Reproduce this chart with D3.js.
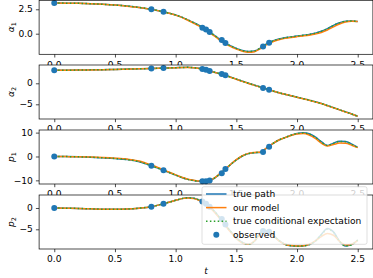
<!DOCTYPE html>
<html>
<head>
<meta charset="utf-8">
<script src="https://cdn.jsdelivr.net/npm/d3@7"></script>
<style>
  body { margin: 0; background: #fff; }
  text { font-family: "DejaVu Sans", sans-serif; }
</style>
</head>
<body>
<div id="chart"></div>
<script>
// time grid of the paths
const times = [0, 0.1, 0.2, 0.3, 0.4, 0.5, 0.6, 0.7, 0.8, 0.9, 1.0,
  1.05, 1.1, 1.15, 1.2, 1.25, 1.3, 1.35, 1.4, 1.45, 1.5,
  1.55, 1.6, 1.65, 1.7, 1.75, 1.8, 1.85, 1.9, 1.95, 2.0,
  2.05, 2.1, 2.15, 2.2, 2.25, 2.3, 2.35, 2.4, 2.45, 2.5];

// alpha_1
const alpha1True = [3.14, 3.13, 3.11, 3.07, 3.01, 2.93, 2.83, 2.69, 2.50, 2.24, 1.92,
  1.70, 1.42, 1.12, 0.80, 0.42, 0.00, -0.45, -0.90, -1.22, -1.50,
  -1.72, -1.83, -1.78, -1.45, -1.05, -0.75, -0.55, -0.42, -0.33, -0.24,
  -0.17, -0.08, 0.05, 0.25, 0.52, 0.85, 1.12, 1.28, 1.30, 1.24];
const alpha1Model = [3.14, 3.13, 3.11, 3.07, 3.01, 2.93, 2.82, 2.68, 2.49, 2.23, 1.90,
  1.67, 1.38, 1.07, 0.74, 0.36, -0.06, -0.52, -0.96, -1.30, -1.58,
  -1.80, -1.90, -1.84, -1.52, -1.12, -0.82, -0.62, -0.48, -0.38, -0.30,
  -0.23, -0.15, -0.04, 0.13, 0.38, 0.70, 1.00, 1.20, 1.27, 1.24];
const alpha1Cond = [3.14, 3.13, 3.11, 3.07, 3.01, 2.93, 2.83, 2.69, 2.50, 2.24, 1.92,
  1.70, 1.42, 1.12, 0.80, 0.42, 0.00, -0.45, -0.90, -1.23, -1.51,
  -1.73, -1.83, -1.77, -1.44, -1.05, -0.75, -0.55, -0.42, -0.33, -0.24,
  -0.17, -0.08, 0.05, 0.24, 0.51, 0.84, 1.11, 1.27, 1.30, 1.24];

// alpha_2
const alpha2True = [3.10, 3.12, 3.15, 3.20, 3.25, 3.30, 3.38, 3.45, 3.52, 3.62, 3.72,
  3.78, 3.80, 3.72, 3.50, 3.20, 2.80, 2.40, 2.00, 1.50, 1.00,
  0.50, 0.00, -0.45, -0.90, -1.35, -1.80, -2.25, -2.60, -2.95, -3.30,
  -3.65, -4.00, -4.40, -4.80, -5.30, -5.80, -6.30, -6.80, -7.30, -7.85];
const alpha2Model = [3.10, 3.12, 3.15, 3.19, 3.24, 3.30, 3.37, 3.44, 3.52, 3.62, 3.71,
  3.76, 3.77, 3.68, 3.46, 3.15, 2.76, 2.36, 1.95, 1.46, 0.96,
  0.46, -0.04, -0.50, -0.94, -1.38, -1.83, -2.27, -2.63, -2.98, -3.33,
  -3.68, -4.03, -4.42, -4.83, -5.33, -5.83, -6.32, -6.82, -7.32, -7.85];
const alpha2Cond = [3.10, 3.12, 3.15, 3.20, 3.25, 3.30, 3.38, 3.45, 3.52, 3.62, 3.72,
  3.78, 3.80, 3.72, 3.50, 3.20, 2.80, 2.40, 2.00, 1.50, 1.00,
  0.50, 0.00, -0.45, -0.90, -1.35, -1.80, -2.25, -2.60, -2.95, -3.30,
  -3.65, -4.00, -4.40, -4.80, -5.30, -5.80, -6.30, -6.80, -7.30, -7.85];

// p_1
const p1True = [0.00, -0.05, -0.15, -0.30, -0.55, -0.85, -1.30, -2.20, -3.90, -5.80, -7.80,
  -8.80, -9.60, -10.10, -10.40, -10.40, -9.70, -7.90, -5.80, -3.50, -1.40,
  0.20, 1.20, 1.60, 1.80, 3.60, 5.40, 6.90, 7.90, 8.90, 9.60,
  9.90, 9.50, 8.20, 6.20, 4.60, 5.60, 6.40, 6.30, 5.20, 3.80];
const p1Model = [0.00, -0.05, -0.12, -0.25, -0.45, -0.72, -1.10, -1.90, -3.60, -5.60, -7.70,
  -8.70, -9.50, -10.00, -10.30, -10.30, -9.60, -7.80, -5.70, -3.40, -1.30,
  0.30, 1.30, 1.70, 1.90, 3.60, 5.40, 6.90, 7.90, 8.80, 9.40,
  9.60, 9.00, 7.60, 5.60, 4.40, 5.00, 5.60, 5.50, 4.70, 3.70];
const p1Cond = [0.00, -0.05, -0.15, -0.30, -0.55, -0.85, -1.30, -2.20, -3.90, -5.80, -7.80,
  -8.80, -9.60, -10.10, -10.40, -10.40, -9.70, -7.90, -5.80, -3.50, -1.40,
  0.20, 1.20, 1.60, 1.80, 3.60, 5.40, 6.90, 7.90, 8.90, 9.60,
  9.90, 9.40, 8.10, 6.10, 4.60, 5.50, 6.30, 6.20, 5.10, 3.80];

// p_2
const p2True = [0.00, -0.05, -0.10, -0.20, -0.28, -0.30, -0.25, -0.05, 0.30, 1.00, 1.80,
  2.20, 2.40, 2.30, 1.80, 1.00, -0.20, -1.80, -3.60, -5.40, -7.00,
  -8.10, -8.50, -7.80, -5.80, -5.40, -6.30, -7.60, -8.50, -8.85, -8.95,
  -8.90, -8.60, -7.80, -6.20, -4.80, -5.60, -7.80, -8.90, -8.60, -7.50];
const p2Model = [0.00, -0.05, -0.10, -0.20, -0.28, -0.30, -0.25, -0.05, 0.30, 1.00, 1.80,
  2.20, 2.35, 2.20, 1.70, 0.85, -0.40, -2.00, -3.80, -5.60, -7.20,
  -8.20, -8.50, -7.70, -6.00, -5.70, -6.50, -7.70, -8.50, -8.80, -8.90,
  -8.85, -8.50, -7.70, -6.70, -6.00, -6.40, -7.80, -8.70, -8.50, -7.60];
const p2Cond = [0.00, -0.05, -0.10, -0.20, -0.28, -0.30, -0.25, -0.05, 0.30, 1.00, 1.80,
  2.20, 2.40, 2.30, 1.80, 1.00, -0.20, -1.80, -3.60, -5.40, -7.00,
  -8.10, -8.50, -7.80, -5.80, -5.40, -6.30, -7.60, -8.50, -8.85, -8.95,
  -8.90, -8.60, -7.80, -6.30, -5.00, -5.70, -7.80, -8.90, -8.60, -7.50];

// observations
const obsTimes = [0, 0.8, 0.9, 1.22, 1.25, 1.28, 1.38, 1.41, 1.72, 1.77];
const alpha1Obs = [3.14, 2.50, 2.24, 0.62, 0.42, 0.18, -0.65, -0.95, -1.30, -0.92];
const alpha2Obs = [3.10, 3.52, 3.62, 3.38, 3.20, 2.95, 2.20, 1.90, -1.10, -1.55];
const p1Obs = [0, -3.9, -5.8, -10.4, -10.4, -10.1, -7.0, -5.2, 1.9, 4.1];
const p2Obs = [0, 0.3, 1.0, 1.5, 1.0, 0.3, -2.6, -3.9, -5.4, -5.6];

const xTicks = [0, 0.5, 1.0, 1.5, 2.0, 2.5];
const xTickLabels = ['0.0', '0.5', '1.0', '1.5', '2.0', '2.5'];
const legendLabels = ['true path', 'our model', 'true conditional expectation', 'observed'];

const panels = [
  {sym: 'α', sub: '1', truth: alpha1True, model: alpha1Model, cond: alpha1Cond, obs: alpha1Obs,
   ticks: [0, 2.5], tickLabels: ['0.0', '2.5'], domain: [-2.11, 3.42]},
  {sym: 'α', sub: '2', truth: alpha2True, model: alpha2Model, cond: alpha2Cond, obs: alpha2Obs,
   ticks: [-5, 0], tickLabels: ['\u22125', '0'], domain: [-8.5, 4.36]},
  {sym: 'p', sub: '1', truth: p1True, model: p1Model, cond: p1Cond, obs: p1Obs,
   ticks: [-10, 0, 10], tickLabels: ['\u221210', '0', '10'], domain: [-11.53, 11.1]},
  {sym: 'p', sub: '2', truth: p2True, model: p2Model, cond: p2Cond, obs: p2Obs,
   ticks: [-5, 0], tickLabels: ['\u22125', '0'], domain: [-9.62, 3.05]}
];

const blue = '#1f77b4', orange = '#ff7f0e', green = '#2ca02c';
const fs = 9.1;
const lw = 1.5;

const svg = d3.select('#chart').append('svg')
    .attr('width', 373)
    .attr('height', 278);

const left = 39.1, right = 372.9;
const tops = [0.3, 65.0, 130.0, 195.0], panelH = 54;

const x = d3.scaleLinear().domain([-0.125, 2.625]).range([left, right]);

panels.forEach(function(p, i) {
    const top = tops[i], bottom = top + panelH;
    const y = d3.scaleLinear().domain(p.domain).range([bottom, top]);
    const g = svg.append('g');

    // white axes background covers tick labels of the panel above
    g.append('rect')
        .attr('x', left).attr('y', top)
        .attr('width', right - left).attr('height', panelH)
        .attr('fill', '#fff');

    const plot = g.append('g');
    const line = vals => d3.line()
        .x((d, k) => x(times[k]))
        .y(d => y(d))
        .curve(d3.curveMonotoneX)(vals);

    plot.append('path').attr('d', line(p.truth))
        .attr('fill', 'none').attr('stroke', blue).attr('stroke-width', lw);
    plot.append('path').attr('d', line(p.model))
        .attr('fill', 'none').attr('stroke', orange).attr('stroke-width', lw);
    plot.append('path').attr('d', line(p.cond))
        .attr('fill', 'none').attr('stroke', green).attr('stroke-width', lw)
        .attr('stroke-dasharray', '1.5,2.4');

    plot.selectAll('circle')
        .data(p.obs)
        .enter().append('circle')
        .attr('cx', (d, k) => x(obsTimes[k]))
        .attr('cy', d => y(d))
        .attr('r', 3.0)
        .attr('fill', blue);

    // y axis ticks, labels set explicitly
    const yAxis = g.append('g')
        .attr('transform', 'translate(' + left + ',0)')
        .call(d3.axisLeft(y).tickValues(p.ticks).tickSize(3.2).tickFormat(''));
    yAxis.select('.domain').remove();
    g.selectAll('.ylab')
        .data(p.ticks)
        .enter().append('text')
        .attr('class', 'ylab')
        .attr('x', left - 6.2)
        .attr('y', d => y(d))
        .attr('dy', '0.35em')
        .attr('text-anchor', 'end')
        .style('font-size', fs + 'px')
        .text((d, k) => p.tickLabels[k]);

    // x axis ticks, labels set explicitly
    const xAxis = g.append('g')
        .attr('transform', 'translate(0,' + bottom + ')')
        .call(d3.axisBottom(x).tickValues(xTicks).tickSize(3.2).tickFormat(''));
    xAxis.select('.domain').remove();
    g.selectAll('.xlab')
        .data(xTicks)
        .enter().append('text')
        .attr('class', 'xlab')
        .attr('x', d => x(d))
        .attr('y', bottom + 13.4)
        .attr('text-anchor', 'middle')
        .style('font-size', fs + 'px')
        .text((d, k) => xTickLabels[k]);

    g.selectAll('.tick line').attr('stroke', '#000').attr('stroke-width', 0.7);

    // frame
    g.append('rect')
        .attr('x', left).attr('y', top)
        .attr('width', right - left).attr('height', panelH)
        .attr('fill', 'none').attr('stroke', '#000').attr('stroke-width', 0.7);

    // y label
    const lab = g.append('text')
        .attr('transform', 'translate(14,' + (top + panelH / 2) + ') rotate(-90)')
        .attr('text-anchor', 'middle')
        .style('font-size', fs + 'px')
        .style('font-style', 'italic');
    lab.append('tspan').text(p.sym);
    lab.append('tspan').attr('dy', 1.6).style('font-size', (fs * 0.7) + 'px')
        .style('font-style', 'normal').text(p.sub);
});

// x label
svg.append('text')
    .attr('x', (left + right) / 2)
    .attr('y', 274.3)
    .attr('text-anchor', 'middle')
    .style('font-size', fs + 'px')
    .style('font-style', 'italic')
    .text('t');

// legend in the bottom panel, lower right
const legend = svg.append('g');
legend.append('rect')
    .attr('x', 202).attr('y', 186.7)
    .attr('width', 165).attr('height', 57.6)
    .attr('rx', 2)
    .attr('fill', '#fff').attr('fill-opacity', 0.8)
    .attr('stroke', '#cccccc').attr('stroke-opacity', 0.8).attr('stroke-width', 0.8);

const rowY = [194, 207.6, 221.2, 234.8];
const handle = [
  {stroke: blue, dash: null},
  {stroke: orange, dash: null},
  {stroke: green, dash: '1.5,2.4'}
];
handle.forEach(function(h, k) {
    legend.append('line')
        .attr('x1', 206).attr('x2', 226.5)
        .attr('y1', rowY[k]).attr('y2', rowY[k])
        .attr('stroke', h.stroke).attr('stroke-width', lw)
        .attr('stroke-dasharray', h.dash);
});
legend.append('circle')
    .attr('cx', 216.3).attr('cy', rowY[3]).attr('r', 3.0).attr('fill', blue);

legend.selectAll('text.lab')
    .data(legendLabels)
    .enter().append('text')
    .attr('class', 'lab')
    .attr('x', 233)
    .attr('y', (d, k) => rowY[k])
    .attr('dy', '0.35em')
    .style('font-size', fs + 'px')
    .text(d => d);
</script>
</body>
</html>
